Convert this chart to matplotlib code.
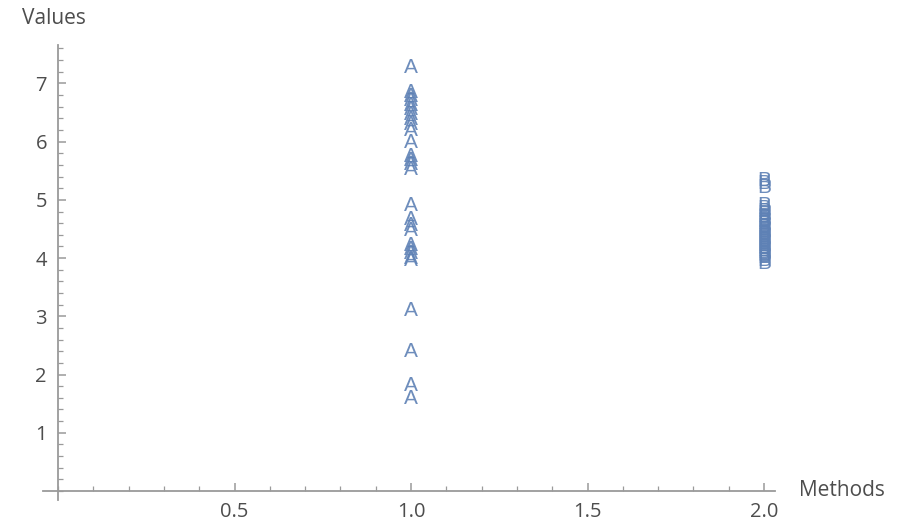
import numpy as np
import matplotlib
matplotlib.use("Agg")
import matplotlib.pyplot as plt
from matplotlib.ticker import MultipleLocator

# Observed values per method, drawn as letter markers
method_labels = ["A", "B"]
method_positions = [1.0, 2.0]
values_a = [7.28, 6.85, 6.78, 6.70, 6.62, 6.55, 6.47, 6.38, 6.30, 6.20,
            5.98, 5.74, 5.67, 5.60, 5.52, 4.90, 4.66, 4.56, 4.48, 4.22,
            4.15, 4.08, 4.00, 3.96, 3.10, 2.40, 1.82, 1.58]
values_b = [5.34, 5.28, 5.21, 4.91, 4.85, 4.80, 4.76, 4.72, 4.69, 4.65,
            4.62, 4.59, 4.55, 4.52, 4.49, 4.46, 4.43, 4.40, 4.37, 4.34,
            4.31, 4.28, 4.25, 4.22, 4.19, 4.16, 4.13, 4.10, 4.07, 4.04,
            4.01, 3.96, 3.90]

MARK = "#5e81b5"
AXIS = "#9a9a9a"
LABEL = "#4d4d4d"

plt.rcParams["font.family"] = ["Open Sans", "DejaVu Sans"]

fig = plt.figure(figsize=(9.03, 5.23), dpi=100)
ax = fig.add_axes([43 / 903, 1 - 500 / 523, (775 - 43) / 903, (500 - 45) / 523])
ax.set_xlim(-0.0425, 2.031)
ax.set_ylim(-0.155, 7.66)

for x, vals, lab in zip(method_positions, [values_a, values_b], method_labels):
    for v in vals:
        ax.text(x, v, lab, color=MARK, fontsize=15, ha="center", va="center",
                family=["Liberation Sans", "DejaVu Sans"], alpha=0.9)

# axes crossing at the origin
for side in ["top", "right"]:
    ax.spines[side].set_visible(False)
ax.spines["left"].set_position(("data", 0))
ax.spines["bottom"].set_position(("data", 0))
for side in ["left", "bottom"]:
    ax.spines[side].set_color(AXIS)
    ax.spines[side].set_linewidth(1.3)

ax.set_xticks([0.5, 1.0, 1.5, 2.0])
ax.set_xticklabels(["0.5", "1.0", "1.5", "2.0"])
ax.set_yticks([1, 2, 3, 4, 5, 6, 7])
ax.xaxis.set_minor_locator(MultipleLocator(0.1))
ax.yaxis.set_minor_locator(MultipleLocator(0.2))
ax.tick_params(which="major", direction="in", length=6, width=1.1, color=AXIS,
               labelcolor=LABEL, labelsize=14.5, pad=8)
ax.tick_params(which="minor", direction="in", length=3.5, width=0.9, color=AXIS)
ax.tick_params(axis="x", which="major", pad=8)

fig.text(22 / 903, 1 - 18 / 523, "Values", color=LABEL, fontsize=15,
         ha="left", va="center")
fig.text(799 / 903, 1 - 491 / 523, "Methods", color=LABEL, fontsize=15,
         ha="left", va="center")

fig.savefig("out.png", dpi=100)
